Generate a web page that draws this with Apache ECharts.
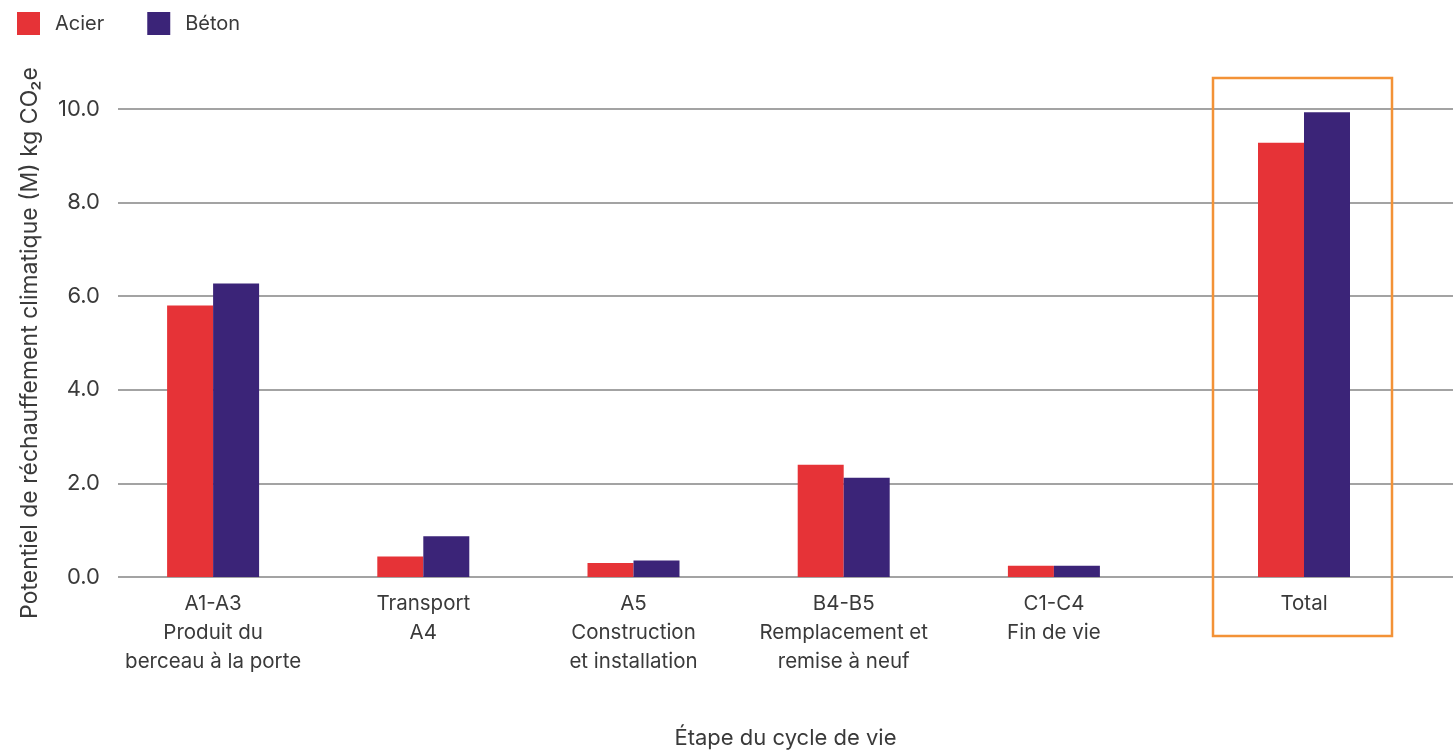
<!DOCTYPE html>
<html>
<head>
<meta charset="utf-8">
<script src="https://cdn.jsdelivr.net/npm/echarts@6/dist/echarts.min.js"></script>
<style>
  html, body { margin: 0; padding: 0; background: #fff; }
  #chart { width: 1453px; height: 754px; }
</style>
</head>
<body>
<div id="chart"></div>
<script>
// Life-cycle stages (the "Total" column sits in its own grid, set apart)
const stages = [
  'A1-A3\nProduit du\nberceau à la porte',
  'Transport\nA4',
  'A5\nConstruction\net installation',
  'B4-B5\nRemplacement et\nremise à neuf',
  'C1-C4\nFin de vie'
];
const totalLabel = ['Total'];

// Global warming potential, millions of kg CO2e
const acier = [5.80, 0.44, 0.30, 2.40, 0.24];
const beton = [6.27, 0.87, 0.35, 2.12, 0.24];
const acierTotal = [9.28];
const betonTotal = [9.93];

const yTicks = { min: 0, max: 10, interval: 2 };

const RED = '#E63337';
const PURPLE = '#3B2478';
const FONT = 'Inter, "Noto Sans", sans-serif';
const TXT = '#3a3a3a';

const chart = echarts.init(document.getElementById('chart'));

const labelStyle = {
  fontFamily: FONT, fontSize: 20.5, color: TXT, lineHeight: 29, margin: 12, interval: 0
};
const barStyle = (c) => ({ color: c });
const gridBase = { top: 109, bottom: 177, outerBoundsMode: 'none', containLabel: false };

chart.setOption({
  animation: false,
  textStyle: { fontFamily: FONT },
  legend: {
    left: 12, top: 7,
    itemWidth: 23, itemHeight: 23, itemGap: 43,
    icon: 'rect',
    textStyle: { fontFamily: FONT, fontSize: 20, color: TXT, padding: [0, 0, 0, 10] },
    data: ['Acier', 'Béton']
  },
  grid: [
    // background grid: gridlines, value labels, axis titles
    { ...gridBase, left: 118, right: 0 },
    // stage columns
    { ...gridBase, left: 108, right: 294 },
    // total column
    { ...gridBase, left: 1199, right: 44 }
  ],
  xAxis: [
    {
      gridIndex: 0, type: 'category', data: [''],
      axisLine: { show: false }, axisTick: { show: false }, axisLabel: { show: false },
      name: 'Étape du cycle de vie', nameLocation: 'middle', nameGap: 150,
      nameTextStyle: { fontFamily: FONT, fontSize: 22, color: TXT }
    },
    {
      gridIndex: 1, type: 'category', data: stages,
      axisLine: { show: false }, axisTick: { show: false },
      axisLabel: labelStyle
    },
    {
      gridIndex: 2, type: 'category', data: totalLabel,
      axisLine: { show: false }, axisTick: { show: false },
      axisLabel: labelStyle
    }
  ],
  yAxis: [
    {
      gridIndex: 0, type: 'value', ...yTicks,
      axisLine: { show: false }, axisTick: { show: false },
      axisLabel: {
        fontFamily: FONT, fontSize: 22, color: TXT, margin: 18,
        formatter: (v) => v.toFixed(1)
      },
      splitLine: { show: true, lineStyle: { color: '#858585', width: 1.5 } },
      name: 'Potentiel de réchauffement climatique (M) kg CO₂e',
      nameLocation: 'middle', nameRotate: 90, nameGap: 76,
      nameTextStyle: { fontFamily: FONT, fontSize: 23, color: TXT }
    },
    { gridIndex: 1, type: 'value', ...yTicks, show: false, splitLine: { show: false } },
    { gridIndex: 2, type: 'value', ...yTicks, show: false, splitLine: { show: false } }
  ],
  series: [
    { name: 'Acier', type: 'bar', xAxisIndex: 1, yAxisIndex: 1, data: acier,
      barWidth: 46, barGap: '0%', itemStyle: barStyle(RED) },
    { name: 'Béton', type: 'bar', xAxisIndex: 1, yAxisIndex: 1, data: beton,
      barWidth: 46, barGap: '0%', itemStyle: barStyle(PURPLE) },
    { name: 'Acier', type: 'bar', xAxisIndex: 2, yAxisIndex: 2, data: acierTotal,
      barWidth: 46, barGap: '0%', itemStyle: barStyle(RED) },
    { name: 'Béton', type: 'bar', xAxisIndex: 2, yAxisIndex: 2, data: betonTotal,
      barWidth: 46, barGap: '0%', itemStyle: barStyle(PURPLE) }
  ],
  graphic: [
    {
      // highlight frame around the total column
      type: 'rect', z: 10,
      shape: { x: 1213, y: 78, width: 179, height: 558 },
      style: { fill: 'none', stroke: '#F39237', lineWidth: 2.5 }
    }
  ]
});
</script>
</body>
</html>
